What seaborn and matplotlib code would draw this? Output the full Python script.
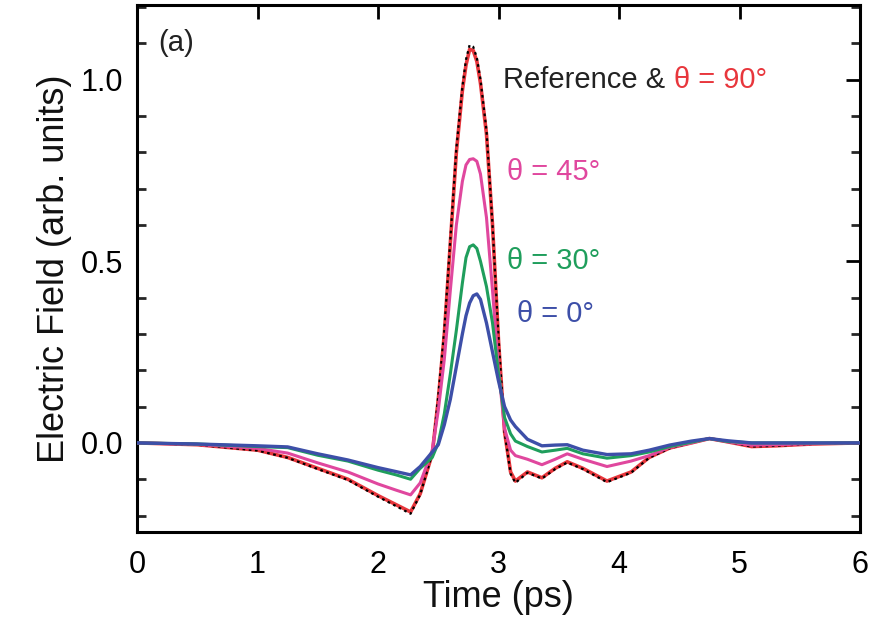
import matplotlib
matplotlib.use("Agg")
import matplotlib.pyplot as plt
import seaborn as sns
import pandas as pd
from matplotlib.ticker import MultipleLocator

sns.set_theme(style="white")
plt.rcParams['font.family'] = ['Liberation Sans', 'DejaVu Sans']

# time axis (ps)
time_ps = [0.0, 0.5, 1.0, 1.25, 1.5, 1.75, 2.0, 2.15, 2.27, 2.35,
           2.45, 2.5, 2.55, 2.6, 2.65, 2.7, 2.73, 2.76, 2.79, 2.82, 2.85, 2.9,
           2.95, 3.0, 3.05, 3.1, 3.14, 3.24, 3.36, 3.47, 3.57, 3.7,
           3.9, 4.1, 4.25, 4.42, 4.6, 4.75, 4.9, 5.1, 5.3, 5.6, 6.0]

reference = [0.0, -0.005, -0.021, -0.041, -0.072, -0.102, -0.148, -0.174, -0.195, -0.142,
             -0.03, 0.13, 0.31, 0.56, 0.81, 0.98, 1.055, 1.095, 1.09, 1.06, 1.0, 0.86,
             0.6, 0.29, 0.03, -0.085, -0.11, -0.082, -0.098, -0.072, -0.054, -0.072,
             -0.108, -0.082, -0.041, -0.015, 0.0, 0.012, 0.003, -0.01, -0.008, -0.003, 0.0]

theta90 = [0.0, -0.005, -0.02, -0.04, -0.07, -0.10, -0.145, -0.17, -0.19, -0.14,
           -0.03, 0.12, 0.30, 0.55, 0.80, 0.97, 1.04, 1.083, 1.08, 1.05, 0.99, 0.85,
           0.60, 0.28, 0.03, -0.08, -0.105, -0.08, -0.096, -0.07, -0.052, -0.07,
           -0.105, -0.08, -0.04, -0.014, 0.0, 0.012, 0.003, -0.01, -0.008, -0.003, 0.0]

theta45 = [0.0, -0.004, -0.015, -0.028, -0.055, -0.08, -0.113, -0.13, -0.143, -0.11,
           -0.02, 0.09, 0.23, 0.42, 0.60, 0.72, 0.765, 0.78, 0.782, 0.775, 0.74, 0.62,
           0.42, 0.20, 0.04, -0.02, -0.035, -0.045, -0.06, -0.045, -0.03, -0.045,
           -0.065, -0.05, -0.035, -0.012, 0.0, 0.012, 0.003, -0.006, -0.005, -0.002, 0.0]

theta30 = [0.0, -0.003, -0.01, -0.013, -0.034, -0.05, -0.075, -0.088, -0.10, -0.07,
           -0.04, 0.0, 0.08, 0.19, 0.31, 0.44, 0.51, 0.54, 0.545, 0.535, 0.50, 0.43,
           0.33, 0.19, 0.07, 0.025, 0.005, -0.01, -0.025, -0.02, -0.015, -0.03,
           -0.042, -0.035, -0.025, -0.01, 0.002, 0.012, 0.004, 0.0, 0.0, 0.0, 0.0]

theta0 = [0.0, -0.003, -0.008, -0.011, -0.03, -0.047, -0.068, -0.079, -0.088, -0.065,
          -0.025, -0.005, 0.05, 0.12, 0.21, 0.30, 0.35, 0.385, 0.405, 0.41, 0.395, 0.33,
          0.25, 0.17, 0.10, 0.063, 0.045, 0.01, -0.008, -0.006, -0.005, -0.02,
          -0.032, -0.03, -0.02, -0.006, 0.005, 0.012, 0.006, 0.0, 0.0, 0.0, 0.0]

c_red = "#e8363c"
c_pink = "#e0479e"
c_green = "#1f9e5c"
c_blue = "#3d4fa8"

fig = plt.figure(figsize=(8.87, 6.31), dpi=100)
ax = fig.add_axes([0.1545, 0.157, 0.8151, 0.835])

sns.lineplot(x=time_ps, y=theta90, ax=ax, color=c_red, lw=2.6, zorder=3)
sns.lineplot(x=time_ps, y=reference, ax=ax, color="black", lw=1.6, zorder=4,
             linestyle=(0, (1.2, 1.6)))
sns.lineplot(x=time_ps, y=theta45, ax=ax, color=c_pink, lw=2.2, zorder=5)
sns.lineplot(x=time_ps, y=theta30, ax=ax, color=c_green, lw=2.2, zorder=6)
sns.lineplot(x=time_ps, y=theta0, ax=ax, color=c_blue, lw=2.4, zorder=7)

ax.set_xlim(0, 6)
ax.set_ylim(-0.245, 1.205)
ax.xaxis.set_major_locator(MultipleLocator(1))
ax.yaxis.set_minor_locator(MultipleLocator(0.1))
ax.set_yticks([0.0, 0.5, 1.0])
ax.set_yticklabels(["0.0", "0.5", "1.0"])

ax.tick_params(axis='both', which='major', direction='in', length=10, width=2,
               top=True, right=True, labelsize=22, colors='black', pad=10)
ax.tick_params(axis='x', which='major', pad=13)
ax.tick_params(axis='y', which='minor', direction='in', length=6.5, width=2,
               left=True, right=True)
for s in ax.spines.values():
    s.set_linewidth(2.2)
    s.set_color('black')

ax.set_xlabel("Time (ps)", fontsize=26, labelpad=0, color='#111111')
ax.set_ylabel("Electric Field (arb. units)", fontsize=26, labelpad=6, color='#111111')

ax.text(0.18, 1.10, "(a)", fontsize=21, va='center', ha='left', color='#222222')
t1 = ax.text(3.04, 1.0, "Reference & ", fontsize=21, va='center', ha='left', color='#222222')
ax.annotate("θ = 90°", xy=(1, 0), xycoords=t1, va='bottom', ha='left',
            fontsize=21, color=c_red)
ax.text(3.07, 0.745, "θ = 45°", fontsize=21, va='center', ha='left', color=c_pink)
ax.text(3.07, 0.50, "θ = 30°", fontsize=21, va='center', ha='left', color=c_green)
ax.text(3.15, 0.355, "θ = 0°", fontsize=21, va='center', ha='left', color=c_blue)

fig.savefig("out.png", dpi=100)
